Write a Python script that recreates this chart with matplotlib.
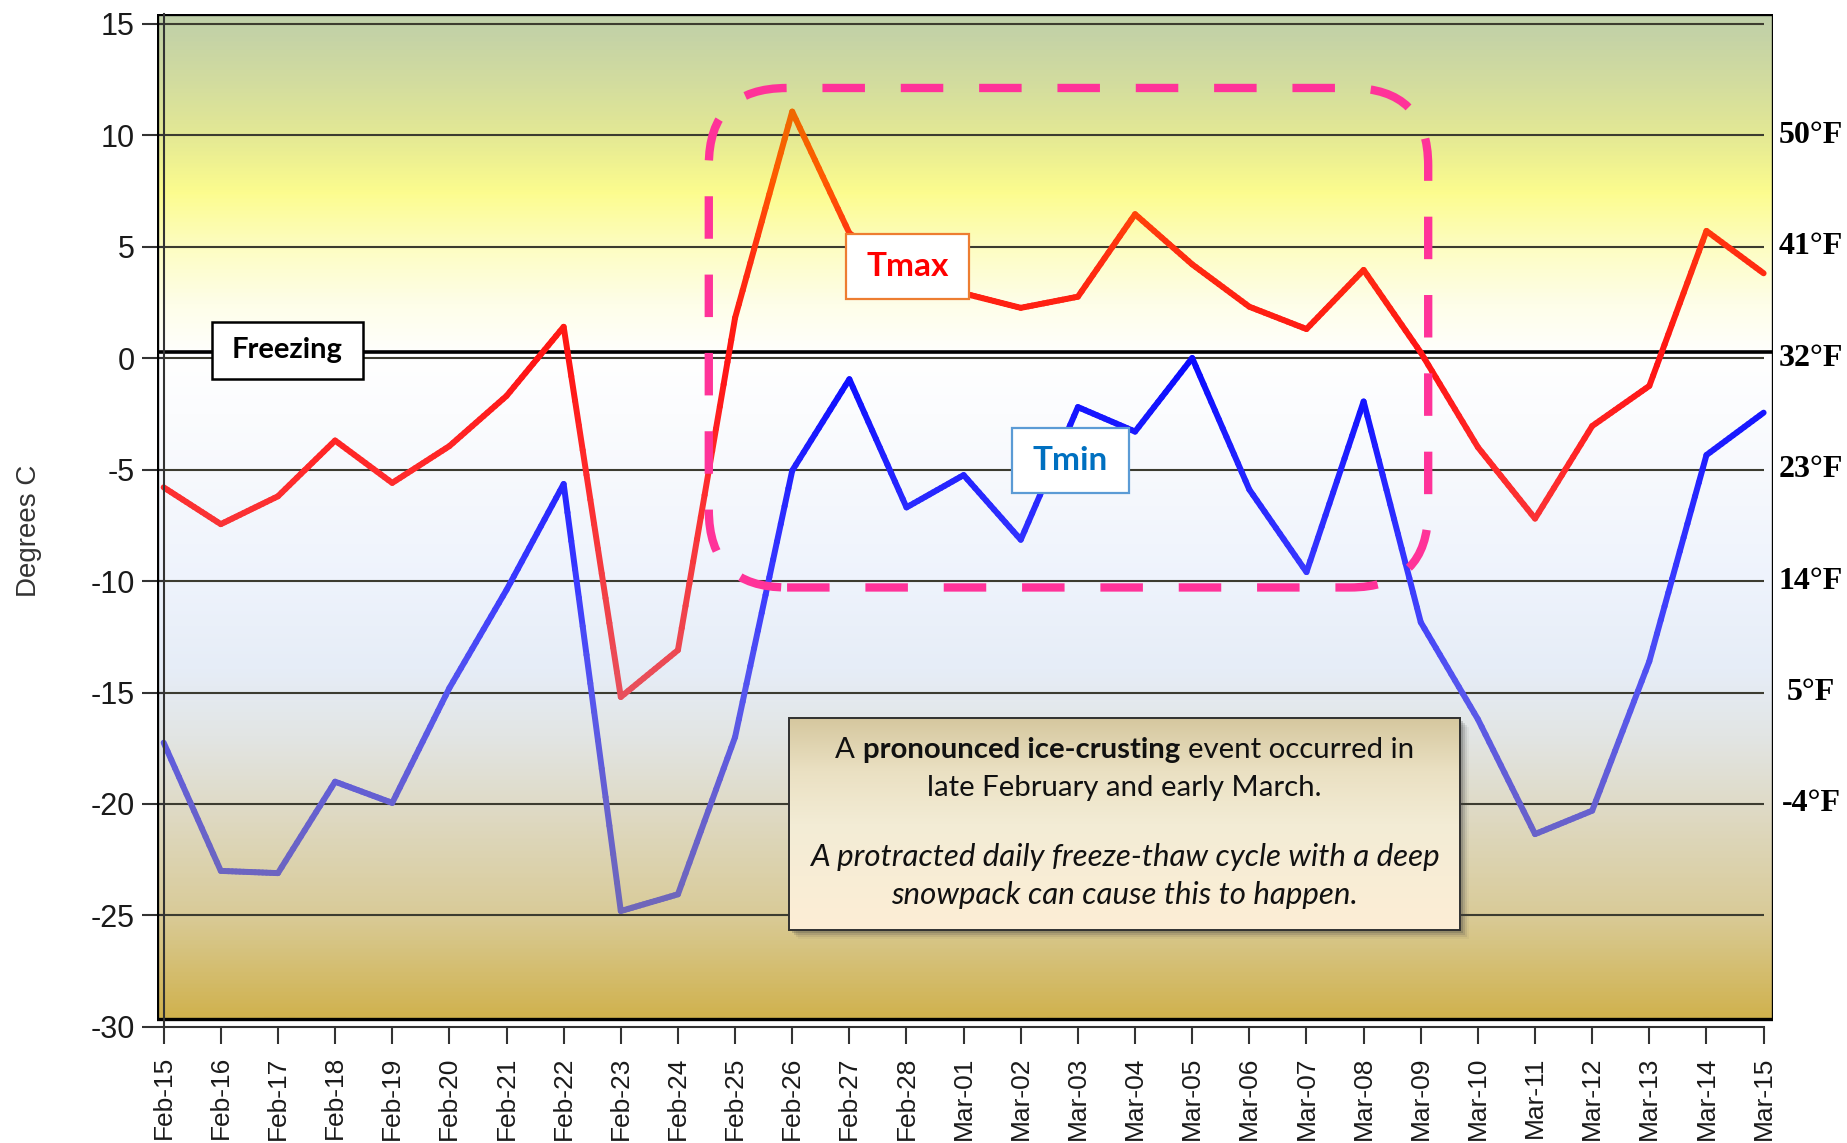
import matplotlib
matplotlib.use('Agg')
import matplotlib.pyplot as plt
import matplotlib.transforms as mtransforms
from matplotlib import font_manager
import numpy as np
from matplotlib.colors import LinearSegmentedColormap
from matplotlib.collections import LineCollection
from matplotlib.patches import Rectangle, FancyBboxPatch

plt.rcParams['axes.unicode_minus'] = False

days = ['Feb-15', 'Feb-16', 'Feb-17', 'Feb-18', 'Feb-19', 'Feb-20', 'Feb-21',
        'Feb-22', 'Feb-23', 'Feb-24', 'Feb-25', 'Feb-26', 'Feb-27', 'Feb-28',
        'Mar-01', 'Mar-02', 'Mar-03', 'Mar-04', 'Mar-05', 'Mar-06', 'Mar-07',
        'Mar-08', 'Mar-09', 'Mar-10', 'Mar-11', 'Mar-12', 'Mar-13', 'Mar-14',
        'Mar-15']
tmax = [-5.8, -7.45, -6.2, -3.7, -5.6, -3.95, -1.7, 1.4, -15.2, -13.1,
        1.8, 11.05, 5.6, 3.8, 2.9, 2.25, 2.75, 6.45, 4.2, 2.3, 1.3, 3.95,
        0.25, -4.0, -7.2, -3.05, -1.25, 5.7, 3.8]
tmin = [-17.25, -23.0, -23.1, -19.0, -19.95, -14.8, -10.4, -5.65, -24.8,
        -24.05, -17.0, -5.05, -0.95, -6.7, -5.25, -8.15, -2.2, -3.3, 0.0,
        -5.9, -9.6, -1.95, -11.85, -16.2, -21.35, -20.3, -13.6, -4.35, -2.45]
yticks = [15, 10, 5, 0, -5, -10, -15, -20, -25, -30]
fahr = [50, 41, 32, 23, 14, 5, -4]

# narrow Arial look-alike if present, otherwise plain Liberation Sans a bit smaller
try:
    font_manager.findfont(font_manager.FontProperties(family='Liberation Sans Narrow'),
                          fallback_to_default=False)
    axis_font, xsize, ysize, lsize = ['Liberation Sans Narrow', 'DejaVu Sans'], 22, 26, 23
except ValueError:
    axis_font, xsize, ysize, lsize = ['Liberation Sans', 'DejaVu Sans'], 19, 22, 20
box_font = ['Lato', 'DejaVu Sans']

x = np.arange(len(days))
xlo, xhi = -0.12, 28.16
ylo, yhi = -30, 15.42
panel_lo = -29.64

fig = plt.figure(figsize=(18.47, 11.43), dpi=100)
ax = fig.add_axes([0.0849, 0.1015, 0.8749, 0.8861])

# spines first: moving a spine resets the ticks
for s in ['top', 'right']:
    ax.spines[s].set_visible(False)
ax.spines['left'].set_position(('data', 0))
ax.spines['left'].set_bounds(ylo, yhi)
ax.spines['bottom'].set_bounds(0, 28)
for s in ['left', 'bottom']:
    ax.spines[s].set_color('#333333')
    ax.spines[s].set_linewidth(1.5)
    ax.spines[s].set_zorder(4.5)

# background panel gradient
bg_stops = [(15.42, '#bfcfa9'), (12.5, '#d2dc9f'), (10, '#e4e994'),
            (7.5, '#fcfc8e'), (5, '#fdfdc2'), (2.5, '#fefee8'), (0, '#ffffff'),
            (-5, '#f7f9fd'), (-10, '#eef3fc'), (-14, '#e6edf7'),
            (-17, '#e2e5e4'), (-20, '#dfdbc8'), (-25, '#d9cb98'),
            (panel_lo, '#d0b24e')]
bg_cmap = LinearSegmentedColormap.from_list(
    'bg', [((v - panel_lo) / (15.42 - panel_lo), c) for v, c in bg_stops[::-1]])
grad = bg_cmap(np.linspace(0, 1, 512))[:, None, :3]
ax.imshow(grad, extent=(xlo, xhi, panel_lo, yhi), origin='lower',
          aspect='auto', interpolation='bilinear', zorder=0)

# grid lines
ax.hlines(yticks[:-1], xlo, 28, colors='#3c3c30', linewidth=1.5, zorder=1)
ax.hlines(0.25, xlo, xhi, colors='black', linewidth=2.6, zorder=2)
ax.add_patch(Rectangle((xlo, panel_lo), xhi - xlo, yhi - panel_lo, fill=False,
                       ec='black', lw=2.4, zorder=4))


def grad_line(xs, ys, stops, lw):
    vals = [v for v, c in stops]
    vmin, vmax = min(vals), max(vals)
    cm = LinearSegmentedColormap.from_list(
        'l', [((v - vmin) / (vmax - vmin), c) for v, c in sorted(stops)])
    segs, cols = [], []
    for i in range(len(xs) - 1):
        px = np.linspace(xs[i], xs[i + 1], 16)
        py = np.linspace(ys[i], ys[i + 1], 16)
        pts = np.column_stack([px, py])
        segs.extend(np.stack([pts[:-1], pts[1:]], axis=1))
        mid = (py[:-1] + py[1:]) / 2
        cols.extend(cm(np.clip((mid - vmin) / (vmax - vmin), 0, 1)))
    lc = LineCollection(segs, colors=cols, linewidths=lw, capstyle='round',
                        joinstyle='round', zorder=3)
    ax.add_collection(lc)


grad_line(x, tmax, [(-15, '#e8505c'), (-5, '#ff2a2a'), (0, '#ff1414'),
                    (5, '#ff3010'), (8, '#ff5a00'), (11.5, '#ec6a00')], 4.3)
grad_line(x, tmin, [(0, '#0a0aff'), (-5, '#2222ff'), (-10, '#3a3aff'),
                    (-15, '#5656ee'), (-20, '#6660d0'), (-25, '#7068b8')], 4.3)

# pink dashed rounded rectangle (corners made circular on screen)
p0 = ax.transData.transform((0, 0))
p1 = ax.transData.transform((1, 1))
aspect = (p1[0] - p0[0]) / (p1[1] - p0[1])
ax.add_patch(FancyBboxPatch((9.54, -10.29), 22.13 - 9.54, 12.11 + 10.29,
                            boxstyle='round,pad=0,rounding_size=1.37',
                            mutation_aspect=aspect, fill=False, ec='#ff3399',
                            lw=6, linestyle=(0, (5.1, 4.3)), zorder=5))


def label_box(x0, x1, y0, y1, text, color, edge, size, lw):
    ax.add_patch(Rectangle((x0, y0), x1 - x0, y1 - y0, fc='white', ec=edge,
                           lw=lw, zorder=6))
    ax.text((x0 + x1) / 2, (y0 + y1) / 2, text, ha='center', va='center',
            color=color, fontsize=size, fontweight='bold', family=box_font,
            zorder=7)


label_box(0.846, 3.488, -0.94, 1.62, 'Freezing', 'black', 'black', 21, 1.8)
label_box(11.94, 14.09, 2.65, 5.57, 'Tmax', '#ff0000', '#ed7d31', 24, 1.6)
label_box(14.85, 16.89, -6.05, -3.14, 'Tmin', '#0070c0', '#5b9bd5', 24, 1.6)

# annotation box with shadow and gradient
bx0, bx1, by0, by1 = 10.94, 22.69, -25.65, -16.14
for k, a in [(3, 0.22), (5, 0.16), (7, 0.1), (9, 0.05)]:
    tr = mtransforms.offset_copy(ax.transData, fig=fig, x=k, y=-k, units='dots')
    ax.add_patch(Rectangle((bx0, by0), bx1 - bx0, by1 - by0, fc='#404040',
                           ec='none', alpha=a, transform=tr, zorder=6))
note_cmap = LinearSegmentedColormap.from_list(
    'note', [(0, '#fdeed6'), (0.5, '#f3ecd5'), (0.75, '#eae0c2'), (1, '#d5c79e')])
ax.imshow(note_cmap(np.linspace(0, 1, 256))[:, None, :3],
          extent=(bx0, bx1, by0, by1), origin='lower', aspect='auto',
          interpolation='bilinear', zorder=6.5)
ax.add_patch(Rectangle((bx0, by0), bx1 - bx0, by1 - by0, fill=False,
                       ec='#303030', lw=1.4, zorder=6.6))

cx = (bx0 + bx1) / 2
kw = dict(family=box_font, fontsize=21.2, color='#111111', zorder=8)
r = fig.canvas.get_renderer()


def measure(s, **k):
    t = ax.text(0, 0, s, **k)
    w = t.get_window_extent(r).width
    t.remove()
    return w


parts = [('A', 'normal'), ('pronounced ice-crusting', 'bold'),
         ('event occurred in', 'normal')]
sp = measure('A A', **kw) - measure('AA', **kw)
ws = [measure(s, fontweight=w, **kw) for s, w in parts]
off = -(sum(ws) + sp * (len(parts) - 1)) / 2
for (s, w), wd in zip(parts, ws):
    tr = mtransforms.offset_copy(ax.transData, fig=fig, x=off, y=0, units='dots')
    ax.text(cx, -17.94, s, fontweight=w, ha='left', va='baseline',
            transform=tr, **kw)
    off += wd + sp
ax.text(cx, -19.64, 'late February and early March.', ha='center',
        va='baseline', **kw)
ikw = dict(kw, fontsize=22.5)
ax.text(cx, -22.78, 'A protracted daily freeze-thaw cycle with a deep',
        ha='center', va='baseline', style='italic', **ikw)
ax.text(cx, -24.49, 'snowpack can cause this to happen.', ha='center',
        va='baseline', style='italic', **ikw)

# Fahrenheit labels on the right
for f in fahr:
    ax.text(28.83, (f - 32) * 5 / 9, '%d°F' % f, ha='center', va='center',
            fontsize=23, fontweight='bold',
            family=['Liberation Serif', 'DejaVu Serif'], clip_on=False)

# axes
ax.set_xlim(xlo, xhi)
ax.set_ylim(ylo, yhi)
ax.set_xticks(x)
ax.set_xticklabels(days, rotation=90)
ax.set_yticks(yticks)
ax.set_yticklabels([str(v) for v in yticks])
ax.tick_params(axis='y', direction='out', length=16, width=1.5,
               color='#333333', pad=5, labelsize=ysize, labelcolor='#1a1a1a')
ax.tick_params(axis='x', direction='out', length=12, width=1.5,
               color='#333333', pad=9, labelsize=xsize, labelcolor='#1a1a1a')
for lab in ax.get_xticklabels() + ax.get_yticklabels():
    lab.set_family(axis_font)

fig.text(29.5 / 1847, 1 - 531 / 1143, 'Degrees C', rotation=90, ha='center',
         va='center', family=axis_font, fontsize=lsize, color='#333333')

plt.savefig('out.png', dpi=100)
